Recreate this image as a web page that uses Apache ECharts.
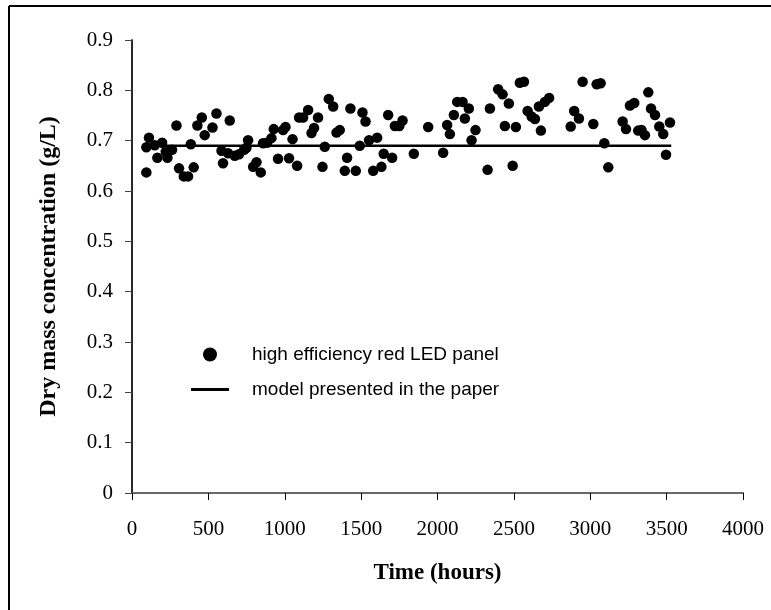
<!DOCTYPE html>
<html>
<head>
<meta charset="utf-8">
<script src="https://cdn.jsdelivr.net/npm/echarts@6/dist/echarts.min.js"></script>
<style>
html,body{margin:0;padding:0;background:#fff;}
#chart{width:771px;height:610px;}
</style>
</head>
<body>
<div id="chart"></div>
<script>
// measured points (hours, g/L)
var hours=[94,94,111,149,166,197,221,232,262,291,308,339,367,385,404,428,457,476,527,553,
586,596,629,640,673,701,734,749,760,793,815,843,858,884,913,928,956,989,1005,1028,
1051,1081,1094,1120,1153,1175,1192,1218,1247,1262,1288,1317,1339,1360,1393,1408,1430,1465,1491,1509,
1529,1552,1579,1605,1633,1648,1677,1703,1721,1750,1771,1845,1939,2037,2063,2081,2107,2129,2164,2179,
2205,2223,2249,2328,2343,2397,2426,2441,2467,2492,2513,2539,2566,2590,2616,2638,2664,2677,2703,2731,
2872,2895,2926,2950,3020,3042,3068,3092,3118,3212,3234,3260,3288,3314,3336,3358,3380,3398,3424,3452,
3478,3496,3522];
var dryMass=[0.637,0.687,0.706,0.691,0.666,0.696,0.678,0.666,0.682,0.730,0.645,0.629,0.629,0.693,0.647,0.730,0.746,0.711,0.726,0.754,
0.680,0.655,0.675,0.740,0.670,0.673,0.682,0.686,0.701,0.648,0.657,0.637,0.695,0.696,0.705,0.723,0.664,0.721,0.727,0.665,
0.703,0.650,0.746,0.746,0.761,0.715,0.725,0.746,0.648,0.688,0.783,0.768,0.716,0.721,0.640,0.666,0.764,0.640,0.690,0.756,
0.738,0.701,0.640,0.706,0.648,0.674,0.751,0.666,0.729,0.729,0.740,0.674,0.727,0.676,0.731,0.713,0.751,0.777,0.777,0.744,
0.764,0.701,0.721,0.642,0.764,0.802,0.792,0.729,0.774,0.650,0.727,0.815,0.817,0.759,0.748,0.743,0.768,0.720,0.777,0.785,
0.728,0.759,0.744,0.817,0.733,0.812,0.814,0.695,0.647,0.738,0.723,0.770,0.775,0.720,0.721,0.711,0.796,0.764,0.751,0.728,
0.713,0.672,0.736];
// model line ends
var modelHours=[95,3530];
var modelValue=[0.69,0.69];

var serif='"Liberation Serif","Times New Roman",serif';
var sans='"Liberation Sans",Arial,sans-serif';

var points=hours.map(function(h,i){return [h,dryMass[i]];});
var model=modelHours.map(function(h,i){return [h,modelValue[i]];});

var chart=echarts.init(document.getElementById('chart'));
var option={
    backgroundColor:'#fff',
    animation:false,
    grid:{left:132,right:28,top:40,bottom:117},
    legend:{
        orient:'vertical',
        left:191,
        top:345,
        padding:0,
        itemWidth:38,
        itemHeight:14,
        itemGap:16,
        textStyle:{fontFamily:sans,fontSize:19,color:'#000',padding:[0,0,0,18]},
        data:[
            {name:'high efficiency red LED panel',icon:'circle'},
            {name:'model presented in the paper',icon:'path://M0,0H38V3H0Z'}
        ]
    },
    xAxis:[{
        type:'value',
        min:0,max:4000,interval:500,
        name:'Time (hours)',
        nameLocation:'middle',
        nameGap:69,
        nameTextStyle:{fontFamily:serif,fontSize:23,fontWeight:'bold',color:'#000'},
        axisLine:{lineStyle:{color:'#000',width:1.5}},
        axisTick:{show:true,length:7,lineStyle:{color:'#000'}},
        axisLabel:{fontFamily:serif,fontSize:21,color:'#000',margin:26,
            formatter:function(v){return String(v);}},
        splitLine:{show:false}
    },{
        type:'value',position:'top',
        min:0,max:4000,
        axisLine:{show:true,lineStyle:{color:'#777',width:1.5}},
        axisTick:{show:false},axisLabel:{show:false},splitLine:{show:false}
    }],
    yAxis:[{
        type:'value',
        min:0,max:0.9,interval:0.1,
        name:'Dry mass concentration (g/L)',
        nameLocation:'middle',
        nameGap:71,
        nameTextStyle:{fontFamily:serif,fontSize:24,fontWeight:'bold',color:'#000'},
        axisLine:{show:true,lineStyle:{color:'#444',width:1.5}},
        axisTick:{show:true,length:7,lineStyle:{color:'#444'}},
        axisLabel:{fontFamily:serif,fontSize:21,color:'#000',margin:19,
            formatter:function(v){return v===0?'0':v.toFixed(1);}},
        splitLine:{show:false}
    },{
        type:'value',position:'right',
        min:0,max:0.9,
        axisLine:{show:true,lineStyle:{color:'#111',width:1.5}},
        axisTick:{show:false},axisLabel:{show:false},splitLine:{show:false}
    }],
    series:[
        {
            name:'high efficiency red LED panel',
            type:'scatter',
            symbol:'circle',
            symbolSize:10.5,
            itemStyle:{color:'#000',opacity:1},
            data:points
        },
        {
            name:'model presented in the paper',
            type:'line',
            symbol:'none',
            lineStyle:{color:'#000',width:2.5},
            itemStyle:{color:'#000'},
            z:3,
            data:model
        }
    ],
    graphic:[
        {type:'line',shape:{x1:9,y1:6,x2:771,y2:6},style:{stroke:'#000',lineWidth:2}},
        {type:'line',shape:{x1:9,y1:6,x2:9,y2:610},style:{stroke:'#000',lineWidth:2}}
    ]
};
chart.setOption(option);
</script>
</body>
</html>
